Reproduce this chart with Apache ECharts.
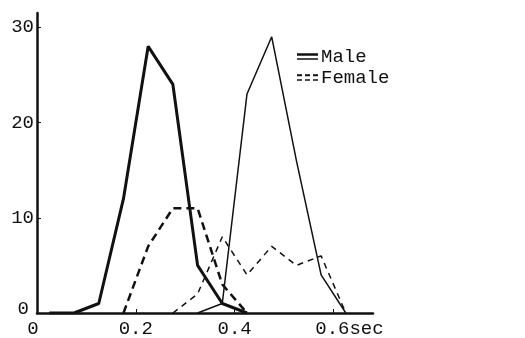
<!DOCTYPE html>
<html>
<head>
<meta charset="utf-8">
<script src="https://cdn.jsdelivr.net/npm/echarts@6/dist/echarts.min.js"></script>
<style>
  html, body {margin: 0; padding: 0; background: #fff;}
  #chart {width: 525px; height: 338px;}
</style>
</head>
<body>
<div id="chart"></div>
<script>
// bin centres (sec)
const bins = [0.025, 0.075, 0.125, 0.175, 0.225, 0.275, 0.325, 0.375, 0.425, 0.475, 0.525, 0.575, 0.625];
// two solid curves (Male), two dashed curves (Female)
const maleA   = [0, 0, 1, 12, 28, 24, 5, 1, 0, null, null, null, null];
const maleB   = [null, null, null, null, null, null, 0, 1, 23, 29, 16, 4, 0];
const femaleA = [null, null, null, 0, 7, 11, 11, 3, 0, null, null, null, null];
const femaleB = [null, null, null, null, null, 0, 2, 8, 4, 7, 5, 6, 0];
const xTicks = [0, 0.2, 0.4, 0.6];
const yTicks = [0, 10, 20, 30];

const font = 'Liberation Mono';
const ink = '#111';

const pairs = vals => bins.map((x, i) => [x, vals[i]]).filter(p => p[1] !== null);

const line = (name, vals, width, type) => ({
  name: name,
  type: 'line',
  data: pairs(vals),
  showSymbol: false,
  symbol: 'none',
  lineStyle: {color: ink, width: width, type: type},
  itemStyle: {color: ink},
  z: 3
});

const chart = echarts.init(document.getElementById('chart'));
chart.setOption({
  animation: false,
  backgroundColor: '#fff',
  grid: {left: 37, right: 152, top: 13, bottom: 23},
  legend: {
    orient: 'vertical',
    left: 292,
    top: 42,
    itemGap: 2,
    itemWidth: 21,
    itemHeight: 7,
    textStyle: {fontFamily: font, fontSize: 19, color: ink, padding: [0, 0, 0, -2]},
    data: [
      {name: 'Male', icon: 'path://M0,0h21v2.4h-21z M0,5h21v1.3h-21z'},
      {name: 'Female', icon: 'path://M0,0h5v2h-5z M8,0h5v2h-5z M16,0h5v2h-5z M0,5h5v1.4h-5z M8,5h5v1.4h-5z M16,5h5v1.4h-5z'}
    ]
  },
  xAxis: {
    type: 'value',
    min: 0,
    max: 0.68,
    interval: 0.2,
    splitLine: {show: false},
    axisLine: {lineStyle: {color: ink, width: 2.5}},
    axisTick: {inside: true, length: 4, lineStyle: {color: ink}, customValues: xTicks},
    axisLabel: {
      margin: 6,
      fontFamily: font,
      fontSize: 19,
      color: ink,
      customValues: xTicks,
      formatter: v => v === 0 ? '{z|0}' : (Math.abs(v - 0.6) < 1e-9 ? '{s|0.6sec}' : v.toFixed(1)),
      rich: {
        z: {fontFamily: font, fontSize: 19, color: ink, padding: [0, 8, 0, 0]},
        s: {fontFamily: font, fontSize: 19, color: ink, padding: [0, 0, 0, 32]}
      }
    }
  },
  yAxis: {
    type: 'value',
    min: 0,
    max: 31.5,
    interval: 10,
    splitLine: {show: false},
    axisLine: {lineStyle: {color: ink, width: 2.5}},
    axisTick: {inside: true, length: 4, lineStyle: {color: ink}, customValues: yTicks},
    axisLabel: {
      margin: 3,
      fontFamily: font,
      fontSize: 19,
      color: ink,
      customValues: yTicks,
      formatter: v => v === 0 ? '{z|0}' : String(v),
      rich: {z: {fontFamily: font, fontSize: 19, color: ink, padding: [0, 5, 8, 0]}}
    }
  },
  series: [
    line('Male', maleA, 3, 'solid'),
    line('Male', maleB, 1.5, 'solid'),
    line('Female', femaleA, 2.5, [8, 5]),
    line('Female', femaleB, 1.5, [6, 5])
  ]
});
</script>
</body>
</html>
